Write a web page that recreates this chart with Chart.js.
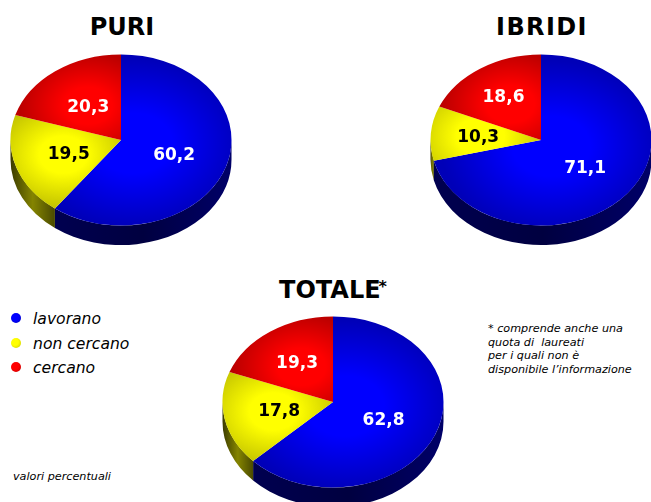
<!DOCTYPE html>
<html>
<head>
<meta charset="utf-8">
<script src="https://cdn.jsdelivr.net/npm/chart.js@4/dist/chart.umd.min.js"></script>
<style>
  html, body { margin: 0; padding: 0; background: #fff; }
  body { position: relative; width: 651px; height: 502px; overflow: hidden; font-family: "DejaVu Sans", sans-serif; color: #000; }
  .box { position: absolute; width: 240px; height: 240px; }
  .title { position: absolute; font-weight: bold; font-size: 24px; line-height: 28px; width: 200px; text-align: center; }
  .title sup { font-size: 16px; font-weight: bold; line-height: 0; vertical-align: 6px; margin-left: -2px; }
  .legend { position: absolute; left: 11px; font-style: italic; font-size: 15.6px; line-height: 20px; }
  .legend i { position: absolute; left: 0; top: 4px; width: 10px; height: 10px; border-radius: 50%; }
  .legend span { position: absolute; left: 22px; white-space: nowrap; }
  .note { position: absolute; left: 488px; top: 322px; font-style: italic; font-size: 11.2px; line-height: 13.5px; white-space: nowrap; }
  .unit { position: absolute; left: 13px; top: 470px; font-style: italic; font-size: 11.2px; line-height: 14px; }
</style>
</head>
<body>
<div class="title" style="left:22px;top:13px">PURI</div>
<div class="title" style="left:442px;top:13px;letter-spacing:1.4px">IBRIDI</div>
<div class="title" style="left:233px;top:276px">TOTALE<sup>*</sup></div>

<div class="box" style="left:1px;top:20px"><canvas id="chartPuri"></canvas></div>
<div class="box" style="left:421px;top:20px"><canvas id="chartIbridi"></canvas></div>
<div class="box" style="left:213px;top:282px"><canvas id="chartTotale"></canvas></div>

<div id="legend"></div>
<div class="note">* comprende anche una<br>quota di&nbsp; laureati<br>per i quali non è<br>disponibile l’informazione</div>
<div class="unit">valori percentuali</div>

<script>
const categories = ['lavorano', 'non cercano', 'cercano'];
const puriValues = [60.2, 19.5, 20.3];
const ibridiValues = [71.1, 10.3, 18.6];
const totaleValues = [62.8, 17.8, 19.3];

// how far from the centre each label sits, in px along the slice middle
const puriLabelDist = [56, 55, 55];
const ibridiLabelDist = [56, 63, 68];
const totaleLabelDist = [55, 55, 63];

const SQUASH = 0.774;
const DEPTH = 19.5;

const sliceStyles = [
  { hi: '#0000ff', lo: '#0000b8', side: ['#000050', '#000040', '#000068'], text: '#fff', spot: 0.12, spread: 1.0 },
  { hi: '#ffff00', lo: '#c4c400', side: ['#3c3c00', '#848400', '#4a4a00'], text: '#000', spot: 0.55, spread: 0.62 },
  { hi: '#ff0000', lo: '#bb0000', side: ['#600000', '#600000', '#600000'], text: '#fff', spot: 0.5, spread: 0.62 }
];

// gradient per slice, lives in the unsquashed circle so it comes out elliptical
function sliceFill(context) {
  const chart = context.chart;
  const area = chart.chartArea;
  const style = sliceStyles[context.dataIndex];
  if (!area) return style.hi;
  const values = context.dataset.data;
  const total = values.reduce((a, b) => a + b, 0);
  const before = values.slice(0, context.dataIndex).reduce((a, b) => a + b, 0);
  const mid = (before + values[context.dataIndex] / 2) / total * Math.PI * 2 - Math.PI / 2;
  const r = Math.min(area.width, area.height) / 2;
  const cx = (area.left + area.right) / 2 + Math.cos(mid) * r * style.spot;
  const cy = (area.top + area.bottom) / 2 + Math.sin(mid) * r * style.spot;
  const g = chart.ctx.createRadialGradient(cx, cy, 0, cx, cy, r * style.spread);
  g.addColorStop(0, style.hi);
  g.addColorStop(0.35, style.hi);
  g.addColorStop(1, style.lo);
  return g;
}

const tiltPlugin = {
  id: 'tilt',
  beforeDatasetsDraw(chart) {
    const ctx = chart.ctx;
    const arcs = chart.getDatasetMeta(0).data;
    // rim first, only the part of each slice that faces the viewer
    arcs.forEach((arc, i) => {
      const a0 = Math.max(arc.startAngle, 0);
      const a1 = Math.min(arc.endAngle, Math.PI);
      if (a1 <= a0) return;
      const rx = arc.outerRadius;
      const ry = rx * SQUASH;
      const xa = arc.x + Math.cos(a1) * rx;
      const xb = arc.x + Math.cos(a0) * rx;
      const grad = ctx.createLinearGradient(xa, 0, xb, 0);
      sliceStyles[i].side.forEach((c, k) => grad.addColorStop(k / 2, c));
      ctx.beginPath();
      ctx.ellipse(arc.x, arc.y, rx, ry, 0, a0, a1);
      ctx.lineTo(arc.x + Math.cos(a1) * rx, arc.y + Math.sin(a1) * ry + DEPTH);
      ctx.ellipse(arc.x, arc.y + DEPTH, rx, ry, 0, a1, a0, true);
      ctx.closePath();
      ctx.fillStyle = grad;
      ctx.fill();
    });
    const cy = arcs[0].y;
    ctx.save();
    ctx.translate(0, cy);
    ctx.scale(1, SQUASH);
    ctx.translate(0, -cy);
  },
  afterDatasetsDraw(chart, args, opts) {
    const ctx = chart.ctx;
    ctx.restore();
    const values = chart.data.datasets[0].data;
    chart.getDatasetMeta(0).data.forEach((arc, i) => {
      const mid = (arc.startAngle + arc.endAngle) / 2;
      const d = opts.labelDist[i];
      ctx.font = 'bold 17px "DejaVu Sans", sans-serif';
      ctx.textAlign = 'center';
      ctx.textBaseline = 'middle';
      ctx.fillStyle = sliceStyles[i].text;
      ctx.fillText(values[i].toFixed(1).replace('.', ','), arc.x + Math.cos(mid) * d, arc.y + Math.sin(mid) * d * SQUASH + 1.5);
    });
  }
};

function makePie(id, values, labelDist) {
  return new Chart(document.getElementById(id), {
    type: 'pie',
    data: {
      labels: categories,
      datasets: [{ data: values, backgroundColor: sliceFill, borderWidth: 0, hoverOffset: 0 }]
    },
    options: {
      responsive: false,
      animation: false,
      layout: { padding: 9.5 },
      plugins: { legend: { display: false }, tooltip: { enabled: false }, tilt: { labelDist: labelDist } }
    },
    plugins: [tiltPlugin]
  });
}

['chartPuri', 'chartIbridi', 'chartTotale'].forEach(id => {
  const c = document.getElementById(id);
  c.width = 240; c.height = 240;
});
makePie('chartPuri', puriValues, puriLabelDist);
makePie('chartIbridi', ibridiValues, ibridiLabelDist);
makePie('chartTotale', totaleValues, totaleLabelDist);

// legend
const legendEl = document.getElementById('legend');
const legendTops = [309, 334, 358];
categories.forEach((name, i) => {
  const row = document.createElement('div');
  row.className = 'legend';
  row.style.top = legendTops[i] + 'px';
  const dot = document.createElement('i');
  dot.style.background = `radial-gradient(circle at 40% 40%, ${sliceStyles[i].hi} 40%, ${sliceStyles[i].lo})`;
  const label = document.createElement('span');
  label.textContent = name;
  row.append(dot, label);
  legendEl.append(row);
});
</script>
</body>
</html>
